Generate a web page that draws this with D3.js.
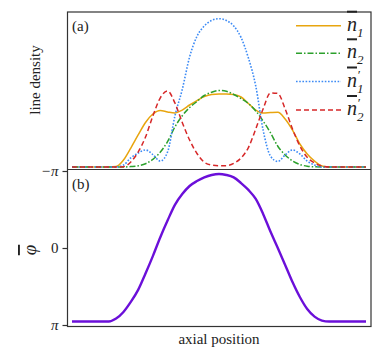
<!doctype html>
<html lang="en">
<head>
<meta charset="utf-8">
<title>line density and phase</title>
<script src="https://cdnjs.cloudflare.com/ajax/libs/d3/7.8.5/d3.min.js"></script>
<style>
  body { margin: 0; background: #fff; }
  svg text { font-family: 'Liberation Serif', 'DejaVu Serif', serif; fill: #222; }
</style>
</head>
<body>
<svg id="chart" width="373" height="355"></svg>
<script>
// axial grid (shared by both panels)
const xs = [-20, -15, -14, -13, -12, -11, -10, -9, -8, -7, -6, -5, -4, -3, -2, -1, 0,
            1, 2, 3, 4, 5, 6, 7, 8, 9, 10, 11, 12, 13, 14, 15, 20];

// panel (a) line densities
const n1 = [0, 0, 0.003, 0.047, 0.128, 0.216, 0.300, 0.357, 0.381, 0.371, 0.364, 0.384, 0.418, 0.448, 0.475, 0.489, 0.492,
            0.492, 0.489, 0.472, 0.428, 0.384, 0.364, 0.367, 0.369, 0.324, 0.249, 0.155, 0.088, 0.040, 0.007, 0, 0];
const n2 = [0, 0, 0, 0, 0.003, 0.008, 0.022, 0.051, 0.099, 0.171, 0.270, 0.345, 0.401, 0.442, 0.482, 0.504, 0.516,
            0.510, 0.489, 0.461, 0.428, 0.378, 0.310, 0.231, 0.140, 0.081, 0.041, 0.017, 0.005, 0.001, 0, 0, 0];
const n1p = [0, 0, 0, 0.013, 0.061, 0.094, 0.115, 0.084, 0.040, 0.101, 0.344, 0.523, 0.742, 0.881, 0.951, 0.988, 1.0,
             0.988, 0.951, 0.873, 0.735, 0.546, 0.249, 0.074, 0.037, 0.081, 0.115, 0.088, 0.040, 0.013, 0, 0, 0];
const n2p = [0, 0, 0, 0.002, 0.034, 0.101, 0.202, 0.344, 0.465, 0.512, 0.432, 0.300, 0.182, 0.091, 0.032, 0.013, 0.009,
             0.009, 0.024, 0.061, 0.131, 0.256, 0.391, 0.499, 0.496, 0.391, 0.256, 0.142, 0.065, 0.027, 0.007, 0, 0];

// panel (b) phase
const phi = [3.0, 3.0, 2.88, 2.61, 2.20, 1.71, 1.04, 0.33, -0.43, -1.12, -1.76, -2.20, -2.53, -2.73, -2.88, -2.98, -3.02,
             -2.98, -2.88, -2.65, -2.37, -2.0, -1.39, -0.67, 0.0, 0.69, 1.39, 2.0, 2.49, 2.80, 2.96, 3.0, 3.0];

const phiTicks = [-Math.PI, 0, Math.PI];
const phiTickLabels = ["\u2212\u03c0", "0", "\u03c0"];

const seriesNames = ["1", "2", "1", "2"];
const seriesPrimed = [false, false, true, true];

const svg = d3.select("#chart");
const left = 67.5, right = 371, topA = 12, mid = 169.5, bottom = 326.5;

const x = d3.scaleLinear().domain([-20, 20]).range([72, 366]);
const yA = d3.scaleLinear().domain([-0.0169, 1.045]).range([mid, topA]);
const yB = d3.scaleLinear().domain([-Math.PI, Math.PI]).range([171, 325]);

const series = [
  { vals: n1, color: "#e8a50f", dash: null, width: 1.5 },
  { vals: n2, color: "#2ca02c", dash: "6,2,1.5,2", width: 1.5 },
  { vals: n1p, color: "#3d8bf5", dash: "1.6,1.6", width: 1.6 },
  { vals: n2p, color: "#d62728", dash: "5,3", width: 1.5 }
];

svg.append("clipPath").attr("id", "clipA")
  .append("rect").attr("x", left).attr("y", topA).attr("width", right - left).attr("height", mid - topA);

const lineA = d3.line().curve(d3.curveMonotoneX);
const gA = svg.append("g").attr("clip-path", "url(#clipA)");
series.forEach(s => {
  gA.append("path")
    .attr("d", lineA(xs.map((v, i) => [x(v), yA(s.vals[i])])))
    .attr("fill", "none")
    .attr("stroke", s.color)
    .attr("stroke-width", s.width)
    .attr("stroke-dasharray", s.dash);
});

// panel (b)
svg.append("path")
  .attr("d", lineA(xs.map((v, i) => [x(v), yB(phi[i])])))
  .attr("fill", "none")
  .attr("stroke", "#6b0fd9")
  .attr("stroke-width", 2.4);

// frames
svg.append("rect").attr("x", left).attr("y", topA).attr("width", right - left).attr("height", bottom - topA)
  .attr("fill", "none").attr("stroke", "#333").attr("stroke-width", 1.2);
svg.append("line").attr("x1", left).attr("x2", right).attr("y1", mid).attr("y2", mid)
  .attr("stroke", "#333").attr("stroke-width", 1.2);

const axisB = d3.axisLeft(yB).tickValues(phiTicks).tickSize(5).tickPadding(4)
  .tickFormat((d, i) => phiTickLabels[i]);
const gAx = svg.append("g").attr("transform", `translate(${left},0)`).call(axisB);
gAx.select(".domain").remove();
gAx.selectAll("line").attr("stroke", "#333").attr("stroke-width", 1.2);
gAx.selectAll("text").attr("font-size", 15).attr("font-family", "'Liberation Serif', serif")
  .style("font-style", (d) => d === 0 ? "normal" : "italic").attr("fill", "#222");

// labels
svg.append("text").attr("x", 72).attr("y", 31).attr("font-size", 15).text("(a)");
svg.append("text").attr("x", 72).attr("y", 189).attr("font-size", 15).text("(b)");
svg.append("text").attr("transform", "translate(40,80) rotate(-90)").attr("text-anchor", "middle")
  .attr("font-size", 15).text("line density");
svg.append("text").attr("transform", "translate(36,250) rotate(-90)").attr("text-anchor", "middle")
  .attr("font-size", 19).style("font-style", "italic").style("text-decoration", "overline").text("\u03c6");
svg.append("text").attr("x", 219).attr("y", 344).attr("text-anchor", "middle")
  .attr("font-size", 15).text("axial position");

// legend
const legY = [25.7, 53.3, 81.5, 110];
series.forEach((s, i) => {
  const g = svg.append("g").attr("transform", `translate(0,${legY[i]})`);
  g.append("line").attr("x1", 296).attr("x2", 341).attr("y1", 0).attr("y2", 0)
    .attr("stroke", s.color).attr("stroke-width", s.width).attr("stroke-dasharray", s.dash);
  const t = g.append("text").attr("x", 347).attr("y", 5).attr("fill", s.color)
    .style("font-style", "italic").attr("font-size", 20);
  t.append("tspan").style("text-decoration", "overline").text("n");
  if (seriesPrimed[i]) {
    t.append("tspan").attr("x", 357).attr("dy", -8).attr("font-size", 13).text("\u2032");
    t.append("tspan").attr("x", 357).attr("dy", 14).attr("font-size", 13).text(seriesNames[i]);
  } else {
    t.append("tspan").attr("x", 357).attr("dy", 6).attr("font-size", 13).text(seriesNames[i]);
  }
});
</script>
</body>
</html>
